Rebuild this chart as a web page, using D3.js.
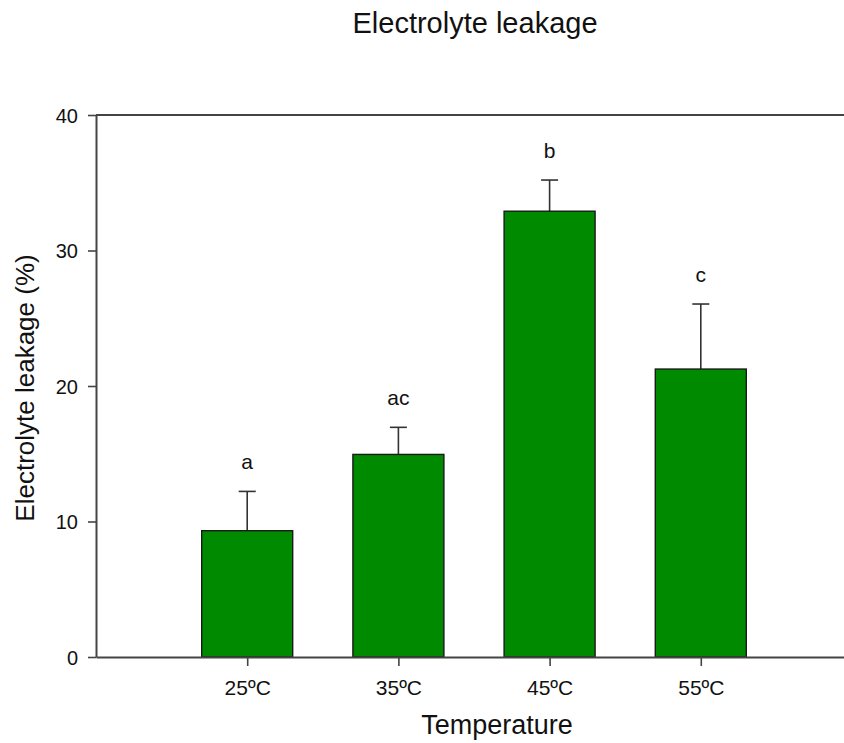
<!DOCTYPE html>
<html><head><meta charset="utf-8">
<script src="https://cdn.jsdelivr.net/npm/d3@7"></script>
<style>body{margin:0;background:#fff}svg{display:block}text{font-family:"Liberation Sans",Arial,sans-serif;fill:#111}</style>
</head><body>
<script>
const categories = ["25ºC","35ºC","45ºC","55ºC"];
const values = [9.32, 14.95, 32.9, 21.25];
const errors = [2.9, 2.0, 2.3, 4.8];
const letters = ["a","ac","b","c"];
const yTicks = [0,10,20,30,40];

const W=844,H=743;
const svg=d3.select("body").append("svg").attr("width",W).attr("height",H);
const x=d3.scaleLinear().domain([0,5]).range([96,852]);
const y=d3.scaleLinear().domain([0,40]).range([657,115]);
const bw=91;

// top frame line
svg.append("line").attr("x1",96).attr("x2",W).attr("y1",y(40)).attr("y2",y(40))
  .attr("stroke","#444").attr("stroke-width",2);

// bars
const g=svg.append("g");
categories.forEach((c,i)=>{
  const cx=x(i+1);
  const top=y(values[i]+errors[i]);
  g.append("line").attr("x1",cx).attr("x2",cx).attr("y1",y(values[i])).attr("y2",top)
    .attr("stroke","#333").attr("stroke-width",1.6);
  g.append("line").attr("x1",cx-8.5).attr("x2",cx+8.5).attr("y1",top).attr("y2",top)
    .attr("stroke","#333").attr("stroke-width",1.6);
  g.append("rect").attr("x",cx-bw/2).attr("width",bw).attr("y",y(values[i])).attr("height",y(0)-y(values[i]))
    .attr("fill","#008a00").attr("stroke","#1a1a1a").attr("stroke-width",1.4);
  g.append("text").attr("x",cx).attr("y",top-22).attr("text-anchor","middle")
    .attr("font-size",21).text(letters[i]);
});

// y axis
const ya=svg.append("g").attr("transform","translate(96,0)")
  .call(d3.axisLeft(y).tickValues(yTicks).tickSize(8).tickPadding(10).tickSizeOuter(0));
ya.select(".domain").attr("stroke","#444").attr("stroke-width",2);
ya.selectAll(".tick line").attr("stroke","#444").attr("stroke-width",1.6);
ya.selectAll(".tick text").attr("font-size",20).attr("font-family","Liberation Sans, Arial, sans-serif").attr("fill","#111").attr("dy","0.36em");

// x axis
const xa=svg.append("g").attr("transform","translate(0,657)")
  .call(d3.axisBottom(x).tickValues([1,2,3,4]).tickFormat(d=>categories[d-1]).tickSize(9).tickPadding(14).tickSizeOuter(0));
xa.select(".domain").attr("stroke","#444").attr("stroke-width",2);
xa.selectAll(".tick line").attr("stroke","#444").attr("stroke-width",1.6);
xa.selectAll(".tick text").attr("font-size",21).attr("font-family","Liberation Sans, Arial, sans-serif").attr("fill","#111");

// titles
svg.append("text").attr("x",475).attr("y",33).attr("text-anchor","middle").attr("font-size",29).text("Electrolyte leakage");
svg.append("text").attr("x",497).attr("y",734).attr("text-anchor","middle").attr("font-size",27).text("Temperature");
svg.append("text").attr("transform","translate(34,388) rotate(-90)").attr("text-anchor","middle").attr("font-size",26).text("Electrolyte leakage (%)");
</script>
</body></html>
